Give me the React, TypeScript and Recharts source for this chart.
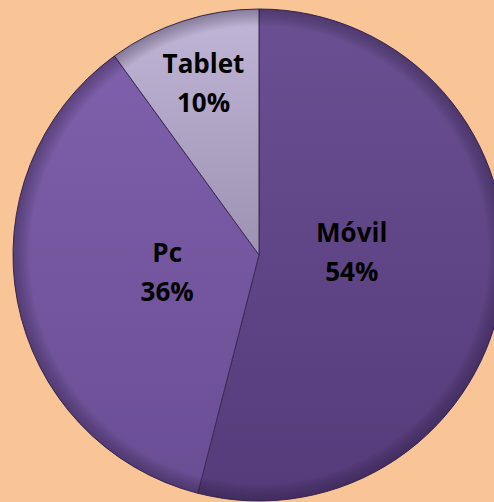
import { PieChart, Pie, Cell } from 'recharts'

interface Slice {
  name: string
  value: number
}

const NAMES = ['Móvil', 'Pc', 'Tablet']
const VALUES = [54, 36, 10]

const data: Slice[] = NAMES.map((name, i) => ({ name, value: VALUES[i] }))

// top / bottom colour of each slice gradient
const TOP = ['#6a5092', '#7e5fab', '#c2b6d8']
const BOTTOM = ['#553b7a', '#6a4e94', '#9d92b2']

const RAD = Math.PI / 180

function renderLabel(props: any) {
  const { cx, cy, midAngle, outerRadius, percent, name } = props
  const ratio = percent < 0.15 ? 0.73 : 0.38
  const r = outerRadius * ratio
  const x = cx + r * Math.cos(-midAngle * RAD)
  // the big slice label sits a bit higher, like Excel's best fit
  const y = cy + r * Math.sin(-midAngle * RAD) - (percent > 0.5 ? 14 : 0)
  return (
    <text
      x={x}
      y={y}
      textAnchor="middle"
      fill="#000"
      fontFamily="'Open Sans', sans-serif"
      fontWeight={700}
      fontSize={26}
    >
      <tspan x={x} dy={-11}>{name}</tspan>
      <tspan x={x} dy={39}>{`${Math.round(percent * 100)}%`}</tspan>
    </text>
  )
}

export default function App() {
  return (
    <div
      style={{
        position: 'absolute',
        top: 0,
        left: 0,
        width: 494,
        height: 502,
        background: '#fac596',
        overflow: 'hidden',
      }}
    >
      <PieChart width={494} height={502} margin={{ top: 0, right: 0, bottom: 0, left: 0 }}>
        <defs>
          {TOP.map((c, i) => (
            <linearGradient key={i} id={`g${i}`} x1="0" y1="0" x2="0" y2="1">
              <stop offset="0%" stopColor={c} />
              <stop offset="100%" stopColor={BOTTOM[i]} />
            </linearGradient>
          ))}
          <radialGradient id="rim" cx="50%" cy="50%" r="50%">
            <stop offset="93%" stopColor="#000" stopOpacity={0} />
            <stop offset="100%" stopColor="#1e1030" stopOpacity={0.35} />
          </radialGradient>
        </defs>
        <Pie
          data={data}
          dataKey="value"
          nameKey="name"
          cx={259}
          cy={255}
          outerRadius={246}
          startAngle={90}
          endAngle={-270}
          stroke="#3b2b52"
          strokeWidth={1}
          label={renderLabel}
          labelLine={false}
          isAnimationActive={false}
        >
          {data.map((_, i) => (
            <Cell key={i} fill={`url(#g${i})`} />
          ))}
        </Pie>
        <Pie
          data={[{ name: 'rim', value: 1 }]}
          dataKey="value"
          cx={259}
          cy={255}
          outerRadius={246}
          startAngle={90}
          endAngle={-270}
          stroke="none"
          fill="url(#rim)"
          isAnimationActive={false}
          legendType="none"
        />
      </PieChart>
    </div>
  )
}
